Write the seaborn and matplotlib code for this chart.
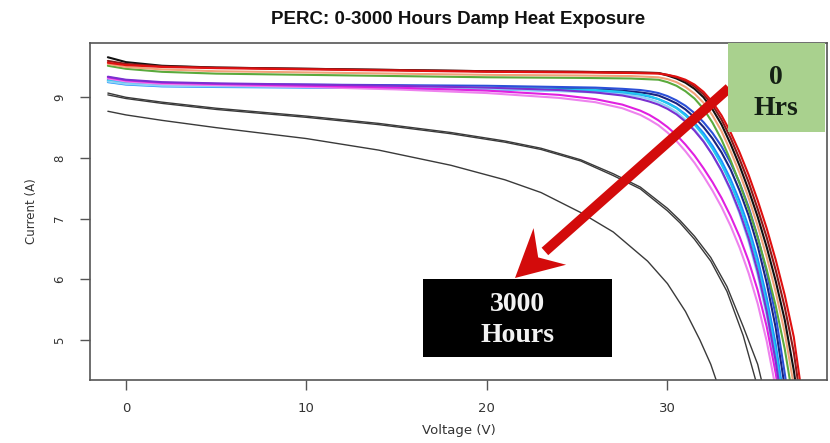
import matplotlib
matplotlib.use("Agg")
import matplotlib.pyplot as plt
from matplotlib.patches import Rectangle, Polygon
import numpy as np
import pandas as pd
import seaborn as sns

# ---- I-V curves (voltage in V, current in A) ----
# early exposure: highest current, latest knee
V_TOP = [-1.0, 0.0, 2.0, 5.0, 10.0, 15.0, 20.0, 25.0, 28.0, 29.5, 30.0, 30.5, 31.0,
         31.5, 32.0, 32.5, 33.0, 33.5, 34.0, 34.5, 35.0, 35.5, 36.0, 36.5, 37.0,
         37.5, 38.0]
I_RED = [9.57, 9.53, 9.50, 9.48, 9.46, 9.44, 9.42, 9.41, 9.40, 9.39, 9.37, 9.34, 9.29,
         9.21, 9.09, 8.92, 8.70, 8.42, 8.09, 7.72, 7.30, 6.84, 6.32, 5.74, 5.05,
         4.00, 2.90]
I_DARKRED = [9.60, 9.55, 9.51, 9.49, 9.47, 9.45, 9.43, 9.42, 9.41, 9.40, 9.37, 9.33,
             9.27, 9.18, 9.05, 8.87, 8.63, 8.33, 7.98, 7.60, 7.16, 6.69, 6.15, 5.54,
             4.80, 3.75, 2.65]
I_BLACK = [9.66, 9.58, 9.52, 9.49, 9.47, 9.45, 9.43, 9.42, 9.41, 9.40, 9.36, 9.31,
           9.24, 9.14, 9.00, 8.80, 8.55, 8.23, 7.87, 7.47, 7.03, 6.53, 5.97, 5.33,
           4.50, 3.45, 2.35]
I_PEACH = [9.55, 9.50, 9.46, 9.43, 9.41, 9.39, 9.37, 9.36, 9.35, 9.33, 9.30, 9.25,
           9.17, 9.06, 8.91, 8.70, 8.44, 8.11, 7.75, 7.34, 6.88, 6.37, 5.79, 5.12,
           4.25, 3.20, 2.10]
I_GREEN = [9.52, 9.47, 9.42, 9.39, 9.37, 9.35, 9.33, 9.32, 9.31, 9.29, 9.25, 9.19,
           9.10, 8.98, 8.81, 8.58, 8.30, 7.96, 7.58, 7.16, 6.69, 6.16, 5.56, 4.85,
           3.95, 2.90, 1.80]

# intermediate exposure
V_MID = [-1.0, 0.0, 2.0, 5.0, 10.0, 15.0, 20.0, 24.0, 26.0, 27.5, 28.5, 29.0, 29.5,
         30.0, 30.5, 31.0, 31.5, 32.0, 32.5, 33.0, 33.5, 34.0, 34.5, 35.0, 35.5,
         36.0, 36.5, 37.0, 37.5]
I_BLUE = [9.30, 9.26, 9.23, 9.22, 9.21, 9.20, 9.19, 9.17, 9.16, 9.14, 9.12, 9.10,
          9.07, 9.02, 8.95, 8.86, 8.74, 8.59, 8.41, 8.19, 7.92, 7.59, 7.19, 6.70,
          6.11, 5.40, 4.45, 3.45, 2.40]
I_NAVY = [9.27, 9.23, 9.20, 9.19, 9.18, 9.17, 9.16, 9.14, 9.13, 9.11, 9.08, 9.06,
          9.03, 8.97, 8.90, 8.80, 8.67, 8.51, 8.32, 8.09, 7.81, 7.46, 7.05, 6.55,
          5.94, 5.20, 4.22, 3.20, 2.15]
I_DODGER = [9.25, 9.21, 9.18, 9.17, 9.16, 9.15, 9.13, 9.11, 9.10, 9.07, 9.04, 9.01,
            8.97, 8.91, 8.83, 8.72, 8.58, 8.41, 8.20, 7.95, 7.65, 7.29, 6.86, 6.34,
            5.70, 4.93, 3.95, 2.90, 1.90]
I_CYAN = [9.28, 9.24, 9.21, 9.20, 9.19, 9.18, 9.16, 9.13, 9.12, 9.09, 9.05, 9.02,
          8.97, 8.90, 8.82, 8.70, 8.55, 8.37, 8.15, 7.89, 7.58, 7.21, 6.77, 6.24,
          5.58, 4.80, 3.80, 2.75, 1.70]
I_SKY = [9.26, 9.22, 9.19, 9.18, 9.17, 9.16, 9.14, 9.10, 9.08, 9.05, 9.01, 8.97,
         8.92, 8.85, 8.76, 8.63, 8.47, 8.28, 8.05, 7.78, 7.46, 7.08, 6.62, 6.07,
         5.40, 4.60, 3.60, 2.55, 1.50]
I_PURPLE = [9.34, 9.29, 9.25, 9.23, 9.21, 9.19, 9.16, 9.12, 9.08, 9.03, 8.97, 8.93,
            8.88, 8.81, 8.72, 8.60, 8.45, 8.27, 8.05, 7.79, 7.48, 7.11, 6.67, 6.13,
            5.47, 4.65, 3.65, 2.60, 1.50]
I_MAGENTA = [9.33, 9.28, 9.24, 9.22, 9.19, 9.16, 9.11, 9.04, 8.97, 8.88, 8.78, 8.71,
             8.62, 8.51, 8.38, 8.22, 8.04, 7.83, 7.60, 7.34, 7.04, 6.70, 6.30, 5.82,
             5.22, 4.45, 3.50, 2.50, 1.50]
I_VIOLET = [9.31, 9.26, 9.22, 9.20, 9.17, 9.13, 9.07, 8.99, 8.92, 8.82, 8.71, 8.63,
            8.54, 8.42, 8.28, 8.11, 7.92, 7.70, 7.46, 7.19, 6.88, 6.52, 6.10, 5.60,
            4.98, 4.20, 3.25, 2.25, 1.25]

# 3000 h: degraded modules
V_AGED = [-1.0, 0.0, 2.0, 5.0, 10.0, 14.0, 18.0, 21.0, 23.0, 25.2, 27.0, 28.5,
          30.0, 30.7, 31.5, 32.4, 33.3, 34.2, 35.0, 35.6]
I_AGED_A = [9.07, 9.00, 8.92, 8.82, 8.69, 8.57, 8.42, 8.28, 8.16, 7.97, 7.74, 7.52,
            7.17, 6.97, 6.71, 6.36, 5.88, 5.22, 4.60, 3.85]
I_AGED_B = [9.04, 8.98, 8.90, 8.80, 8.67, 8.55, 8.40, 8.26, 8.14, 7.95, 7.71, 7.49,
            7.13, 6.93, 6.66, 6.30, 5.80, 5.07, 4.22, 3.45]

V_WORST = [-1.0, 0.0, 2.0, 5.0, 10.0, 14.0, 18.0, 21.0, 23.0, 25.2, 27.0, 28.9,
           30.0, 31.0, 31.8, 32.4, 33.0, 33.5]
I_WORST = [8.77, 8.71, 8.62, 8.50, 8.32, 8.13, 7.88, 7.64, 7.43, 7.10, 6.78, 6.30,
           5.93, 5.47, 5.00, 4.60, 4.08, 3.60]

colored = [
    ("navy", V_MID, I_NAVY, "#1a237e"),
    ("blue", V_MID, I_BLUE, "#2b50d8"),
    ("dodger", V_MID, I_DODGER, "#1e90ff"),
    ("cyan", V_MID, I_CYAN, "#22c8f0"),
    ("sky", V_MID, I_SKY, "#8fd3f5"),
    ("violet", V_MID, I_VIOLET, "#ee82ee"),
    ("magenta", V_MID, I_MAGENTA, "#e020e0"),
    ("purple", V_MID, I_PURPLE, "#7a30d0"),
    ("green", V_TOP, I_GREEN, "#5aaa3c"),
    ("peach", V_TOP, I_PEACH, "#f2a27a"),
    ("black", V_TOP, I_BLACK, "#111111"),
    ("darkred", V_TOP, I_DARKRED, "#8b1a1a"),
    ("red", V_TOP, I_RED, "#e01010"),
]
aged = [
    ("aged_a", V_AGED, I_AGED_A),
    ("aged_b", V_AGED, I_AGED_B),
    ("worst", V_WORST, I_WORST),
]

df_col = pd.concat([pd.DataFrame({"V": v, "I": i, "curve": n})
                    for n, v, i, _ in colored], ignore_index=True)
df_aged = pd.concat([pd.DataFrame({"V": v, "I": i, "curve": n})
                     for n, v, i in aged], ignore_index=True)
palette = {n: c for n, _, _, c in colored}

sns.set_theme(style="white")
plt.rcParams["font.family"] = ["DejaVu Sans"]

W, H = 830, 443
fig = plt.figure(figsize=(W / 100, H / 100), dpi=100)
fig.patch.set_facecolor("white")

def fx(x):
    return x / W

def fy(y):
    return 1 - y / H

ax_l, ax_r, ax_t, ax_b = 90, 827, 43, 380
ax = fig.add_axes([fx(ax_l), fy(ax_b), (ax_r - ax_l) / W, (ax_b - ax_t) / H])

sns.lineplot(data=df_aged, x="V", y="I", units="curve", estimator=None, sort=False,
             color="#3a3a3a", linewidth=1.0, ax=ax, legend=False)
sns.lineplot(data=df_col, x="V", y="I", hue="curve", palette=palette,
             hue_order=[n for n, _, _, _ in colored], estimator=None, sort=False,
             linewidth=1.5, ax=ax, legend=False)

ax.set_xlim(-1.99, 38.84)
ax.set_ylim(4.341, 9.895)
ax.set_xticks([0, 10, 20, 30])
ax.set_yticks([5, 6, 7, 8, 9])
ax.tick_params(axis="x", length=7, width=1, color="#555555", labelsize=9.5,
               labelcolor="#333333", pad=9, bottom=True)
ax.tick_params(axis="y", length=7, width=1, color="#555555", labelsize=8.5,
               labelcolor="#333333", pad=10, left=True)
for lab in ax.get_yticklabels():
    lab.set_rotation(90)
    lab.set_va("center")
for s in ax.spines.values():
    s.set_color("#555555")
    s.set_linewidth(1.2)
ax.set_xlabel("Voltage (V)", fontsize=9.5, color="#333333", labelpad=6)
ax.set_ylabel("Current (A)", fontsize=8.5, color="#333333", labelpad=11)

fig.text(fx(458), fy(19), "PERC: 0-3000 Hours Damp Heat Exposure",
         ha="center", va="center", fontsize=13.5, fontweight="bold",
         family="Liberation Sans", color="#111111")

# red arrow from the 0 h label towards the 3000 h label
tail = np.array([729.0, 88.0])
tip = np.array([515.0, 278.0])
u = (tip - tail) / np.linalg.norm(tip - tail)
n = np.array([-u[1], u[0]])
shaft_end = tip - 40 * u
hw = 5.0
shaft = [tail + hw * n, shaft_end + hw * n, shaft_end - hw * n, tail - hw * n]
head = [tip, tip - 47 * u + 25 * n, tip - 31 * u, tip - 47 * u - 24 * n]
for pts in (shaft, head):
    fig.add_artist(Polygon([(fx(p[0]), fy(p[1])) for p in pts], closed=True,
                           transform=fig.transFigure, facecolor="#d30b0b",
                           edgecolor="none", zorder=5))

# label boxes
fig.add_artist(Rectangle((fx(728), fy(132)), (825 - 728) / W, (132 - 43) / H,
                         transform=fig.transFigure, facecolor="#a9d18e",
                         edgecolor="none", zorder=6))
fig.text(fx(776), fy(93), "0\nHrs", ha="center", va="center", fontsize=20,
         fontweight="bold", family="Liberation Serif", color="#142014",
         linespacing=1.3, zorder=7)

fig.add_artist(Rectangle((fx(423), fy(357)), (612 - 423) / W, (357 - 279) / H,
                         transform=fig.transFigure, facecolor="black",
                         edgecolor="none", zorder=6))
fig.text(fx(517), fy(320), "3000\nHours", ha="center", va="center", fontsize=20,
         fontweight="bold", family="Liberation Serif", color="#f2f2f2",
         linespacing=1.3, zorder=7)

fig.savefig("out.png", dpi=100, facecolor="white")
